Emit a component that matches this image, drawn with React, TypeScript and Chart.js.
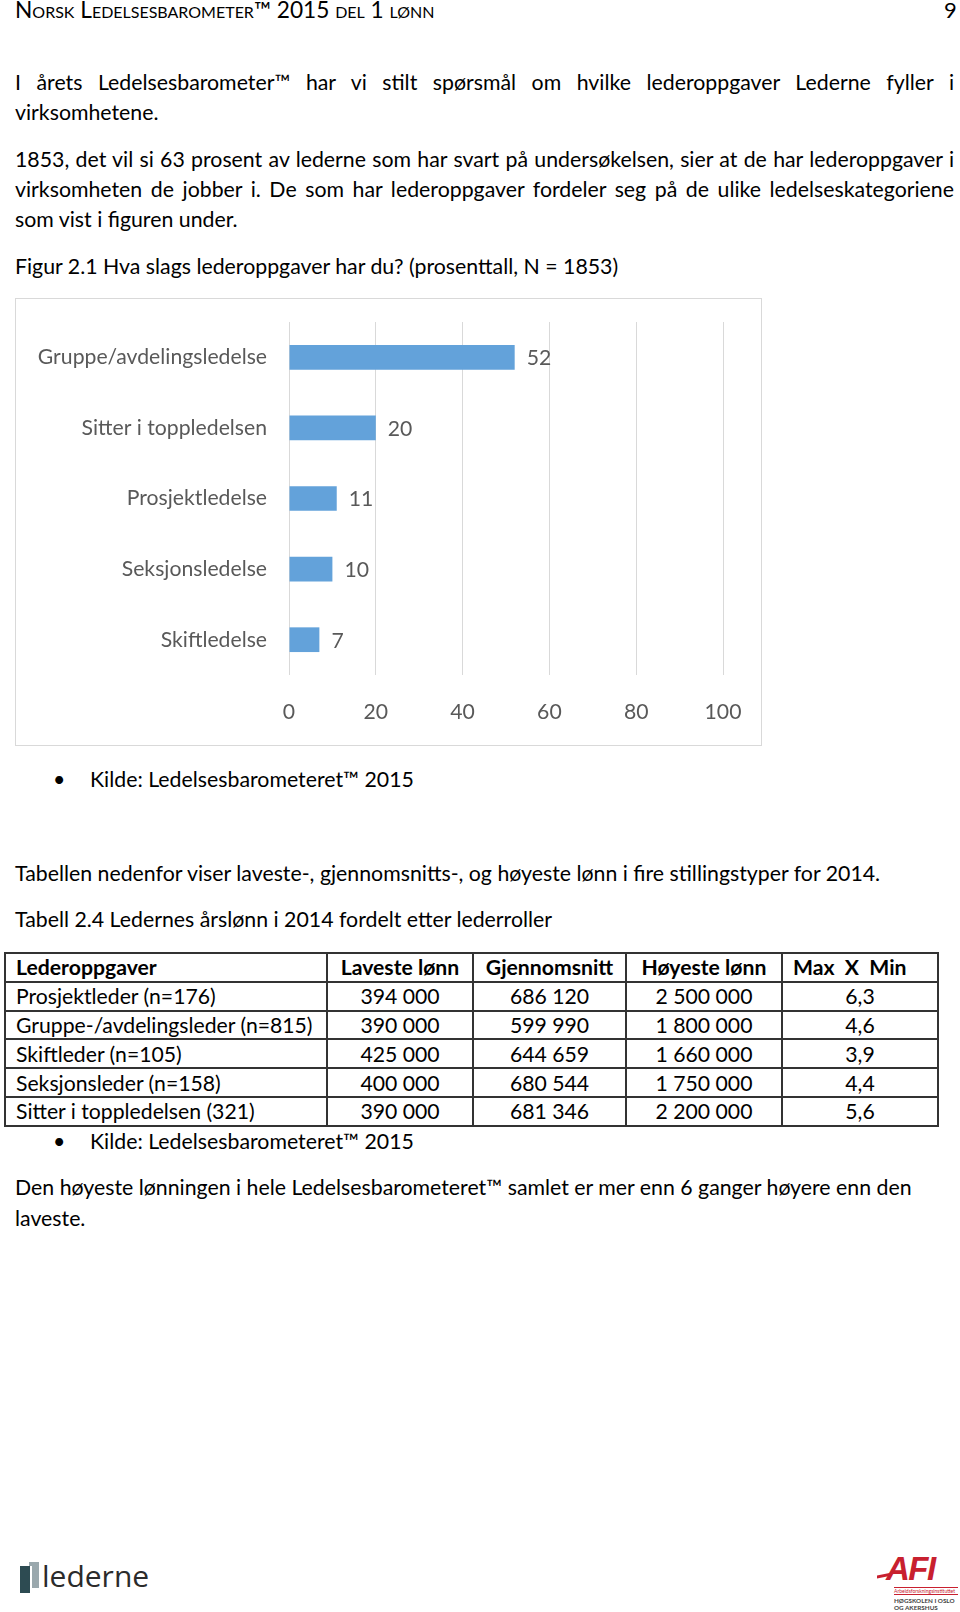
import React, { useEffect, useRef } from "react";
import { Chart, registerables } from "chart.js";

Chart.register(...registerables);

// ---------- Data ----------
const categories = [
  "Gruppe/avdelingsledelse",
  "Sitter i toppledelsen",
  "Prosjektledelse",
  "Seksjonsledelse",
  "Skiftledelse",
];
const percentValues = [52, 20, 11, 10, 7];
const xTickValues = [0, 20, 40, 60, 80, 100];

const tableHeader = ["Lederoppgaver", "Laveste lønn", "Gjennomsnitt", "Høyeste lønn", "Max  X  Min"];
const tableRoles = [
  "Prosjektleder (n=176)",
  "Gruppe-/avdelingsleder (n=815)",
  "Skiftleder (n=105)",
  "Seksjonsleder (n=158)",
  "Sitter i toppledelsen (321)",
];
const lowestPay = ["394 000", "390 000", "425 000", "400 000", "390 000"];
const averagePay = ["686 120", "599 990", "644 659", "680 544", "681 346"];
const highestPay = ["2 500 000", "1 800 000", "1 660 000", "1 750 000", "2 200 000"];
const maxMinRatio = ["6,3", "4,6", "3,9", "4,4", "5,6"];

const FONT = "Lato, 'Open Sans', sans-serif";
const BODY_SIZE = 21.3;
const CHART_FONT_SIZE = 21.2;
const CHART_TEXT = "#595959";
const BAR_COLOR = "#63a2da";

const valueLabelPlugin = {
  id: "valueLabels",
  afterDatasetsDraw(chart: any) {
    const ctx = chart.ctx;
    const meta = chart.getDatasetMeta(0);
    ctx.save();
    ctx.font = `${CHART_FONT_SIZE}px Lato`;
    ctx.fillStyle = CHART_TEXT;
    ctx.textAlign = "left";
    ctx.textBaseline = "middle";
    meta.data.forEach((bar: any, i: number) => {
      ctx.fillText(String(percentValues[i]), bar.x + 12, bar.y + 1);
    });
    ctx.restore();
  },
};

function BarChart() {
  const ref = useRef<HTMLCanvasElement | null>(null);
  useEffect(() => {
    if (!ref.current) return;
    const chart = new Chart(ref.current, {
      type: "bar",
      data: {
        labels: categories,
        datasets: [
          {
            data: percentValues,
            backgroundColor: BAR_COLOR,
            borderWidth: 0,
            categoryPercentage: 1,
            barPercentage: 0.35,
          },
        ],
      },
      options: {
        indexAxis: "y",
        responsive: false,
        animation: false,
        devicePixelRatio: 1,
        layout: { padding: { left: 0, right: 37, top: 23, bottom: 0 } },
        plugins: { legend: { display: false }, tooltip: { enabled: false } },
        scales: {
          x: {
            min: 0,
            max: 100,
            afterBuildTicks: (scale: any) => {
              scale.ticks = xTickValues.map((v) => ({ value: v }));
            },
            afterFit: (scale: any) => {
              scale.height = 70;
              scale.paddingLeft = 0;
              scale.paddingRight = 0;
            },
            grid: { color: "#d9d9d9", lineWidth: 1, drawTicks: false },
            border: { display: false },
            ticks: {
              color: CHART_TEXT,
              font: { family: "Lato", size: CHART_FONT_SIZE },
              padding: 24,
            },
          },
          y: {
            afterFit: (scale: any) => {
              scale.width = 273;
              scale.paddingTop = 0;
              scale.paddingBottom = 0;
            },
            grid: { display: false, drawTicks: false },
            border: { display: false },
            ticks: {
              color: CHART_TEXT,
              font: { family: "Lato", size: CHART_FONT_SIZE },
              padding: 22,
            },
          },
        },
      },
      plugins: [valueLabelPlugin],
    } as any);
    return () => chart.destroy();
  }, []);
  return (
    <canvas
      ref={ref}
      width={744}
      height={446}
      style={{ position: "absolute", left: 16, top: 299, width: 744, height: 446 }}
    />
  );
}

const abs = (left: number, top: number, extra: React.CSSProperties = {}): React.CSSProperties => ({
  position: "absolute",
  left,
  top,
  whiteSpace: "nowrap",
  ...extra,
});

function JustLine({ top, text }: { top: number; text: string }) {
  return (
    <div
      style={abs(15, top, {
        width: 939,
        textAlign: "justify",
        textAlignLast: "justify" as any,
        whiteSpace: "normal",
      })}
    >
      {text}
    </div>
  );
}

export default function App() {
  const cellBorder = "2px solid #333";
  const rowH = 28.8;
  const colW = [322, 146, 153, 156, 156];
  const rows = tableRoles.map((r, i) => [r, lowestPay[i], averagePay[i], highestPay[i], maxMinRatio[i]]);

  return (
    <div
      style={{
        position: "absolute",
        left: 0,
        top: 0,
        width: 960,
        height: 1612,
        background: "#fff",
        overflow: "hidden",
        fontFamily: FONT,
        fontSize: BODY_SIZE,
        lineHeight: "24px",
        color: "#000",
      }}
    >
      {/* Header */}
      <div style={abs(15, -3, { fontVariant: "small-caps", fontSize: 22.7, lineHeight: "26px" })}>
        Norsk Ledelsesbarometer™ 2015 del 1 lønn
      </div>
      <div style={abs(944, -3, { fontSize: 22, lineHeight: "26px" })}>9</div>

      {/* Paragraph 1 */}
      <JustLine top={70} text="I årets Ledelsesbarometer™ har vi stilt spørsmål om hvilke lederoppgaver Lederne fyller i" />
      <div style={abs(15, 100)}>virksomhetene.</div>

      {/* Paragraph 2 */}
      <JustLine top={147} text="1853, det vil si 63 prosent av lederne som har svart på undersøkelsen, sier at de har lederoppgaver i" />
      <JustLine top={177} text="virksomheten de jobber i. De som har lederoppgaver fordeler seg på de ulike ledelseskategoriene" />
      <div style={abs(15, 207)}>som vist i figuren under.</div>

      <div style={abs(15, 254)}>Figur 2.1 Hva slags lederoppgaver har du? (prosenttall, N = 1853)</div>

      {/* Chart frame */}
      <div
        style={{
          position: "absolute",
          left: 15,
          top: 298,
          width: 747,
          height: 448,
          border: "1.5px solid #d9d9d9",
          boxSizing: "border-box",
        }}
      />
      <BarChart />

      {/* Source bullet 1 */}
      <div style={abs(53, 767)}>•</div>
      <div style={abs(90, 767)}>Kilde: Ledelsesbarometeret™ 2015</div>

      <div style={abs(15, 861)}>Tabellen nedenfor viser laveste-, gjennomsnitts-, og høyeste lønn i fire stillingstyper for 2014.</div>
      <div style={abs(15, 907)}>Tabell 2.4 Ledernes årslønn i 2014 fordelt etter lederroller</div>

      {/* Table */}
      <table
        style={{
          position: "absolute",
          left: 4,
          top: 952,
          borderCollapse: "collapse",
          tableLayout: "fixed",
          width: 935,
          fontFamily: FONT,
          fontSize: 21.2,
        }}
      >
        <colgroup>
          {colW.map((w, i) => (
            <col key={i} style={{ width: w }} />
          ))}
        </colgroup>
        <tbody>
          <tr style={{ height: rowH }}>
            {tableHeader.map((h, i) => (
              <td
                key={i}
                style={{
                  border: cellBorder,
                  padding: i === 0 || i === 4 ? "0 0 0 10px" : 0,
                  textAlign: i === 0 || i === 4 ? "left" : "center",
                  fontWeight: 700,
                  lineHeight: "24px",
                  whiteSpace: "pre",
                }}
              >
                {h}
              </td>
            ))}
          </tr>
          {rows.map((r, ri) => (
            <tr key={ri} style={{ height: rowH }}>
              {r.map((c, ci) => (
                <td
                  key={ci}
                  style={{
                    border: cellBorder,
                    padding: ci === 0 ? "0 0 0 10px" : 0,
                    textAlign: ci === 0 ? "left" : "center",
                    lineHeight: "24px",
                    whiteSpace: "nowrap",
                  }}
                >
                  {c}
                </td>
              ))}
            </tr>
          ))}
        </tbody>
      </table>

      {/* Source bullet 2 */}
      <div style={abs(53, 1129)}>•</div>
      <div style={abs(90, 1129)}>Kilde: Ledelsesbarometeret™ 2015</div>

      <div style={abs(15, 1175)}>Den høyeste lønningen i hele Ledelsesbarometeret™ samlet er mer enn 6 ganger høyere enn den</div>
      <div style={abs(15, 1206)}>laveste.</div>

      {/* Footer logo: lederne */}
      <div style={{ position: "absolute", left: 29, top: 1562, width: 10, height: 26, background: "#9aa8ad" }} />
      <div style={{ position: "absolute", left: 20, top: 1566, width: 10, height: 27, background: "#2d4b52" }} />
      <div style={{ position: "absolute", left: 30, top: 1566, width: 2, height: 22, background: "#ffffff" }} />
      <div style={abs(42, 1558, { fontFamily: "'Open Sans', sans-serif", fontSize: 30, lineHeight: "36px", color: "#2b2b2b" })}>
        lederne
      </div>

      {/* Footer logo: AFI */}
      <div
        style={abs(886, 1553, {
          fontFamily: "'Liberation Sans', Arial, sans-serif",
          fontWeight: 700,
          fontStyle: "italic",
          fontSize: 33,
          lineHeight: "32px",
          color: "#c8202f",
          letterSpacing: -1.5,
        })}
      >
        AFI
      </div>
      <div style={{ position: "absolute", left: 877, top: 1574, width: 15, height: 3, background: "#c8202f", transform: "skewY(-12deg)" }} />
      <div style={{ position: "absolute", left: 894, top: 1587, width: 64, height: 1, background: "#c8202f" }} />
      <div style={abs(894, 1588, { fontSize: 5, lineHeight: "6px", color: "#c8202f" })}>Arbeidsforskningsinstituttet</div>
      <div style={{ position: "absolute", left: 894, top: 1594, width: 64, height: 1, background: "#c8202f" }} />
      <div style={abs(894, 1597, { fontSize: 6.3, lineHeight: "7px", color: "#444", fontWeight: 700 })}>HØGSKOLEN I OSLO</div>
      <div style={abs(894, 1604, { fontSize: 6.3, lineHeight: "7px", color: "#444", fontWeight: 700 })}>OG AKERSHUS</div>
    </div>
  );
}
